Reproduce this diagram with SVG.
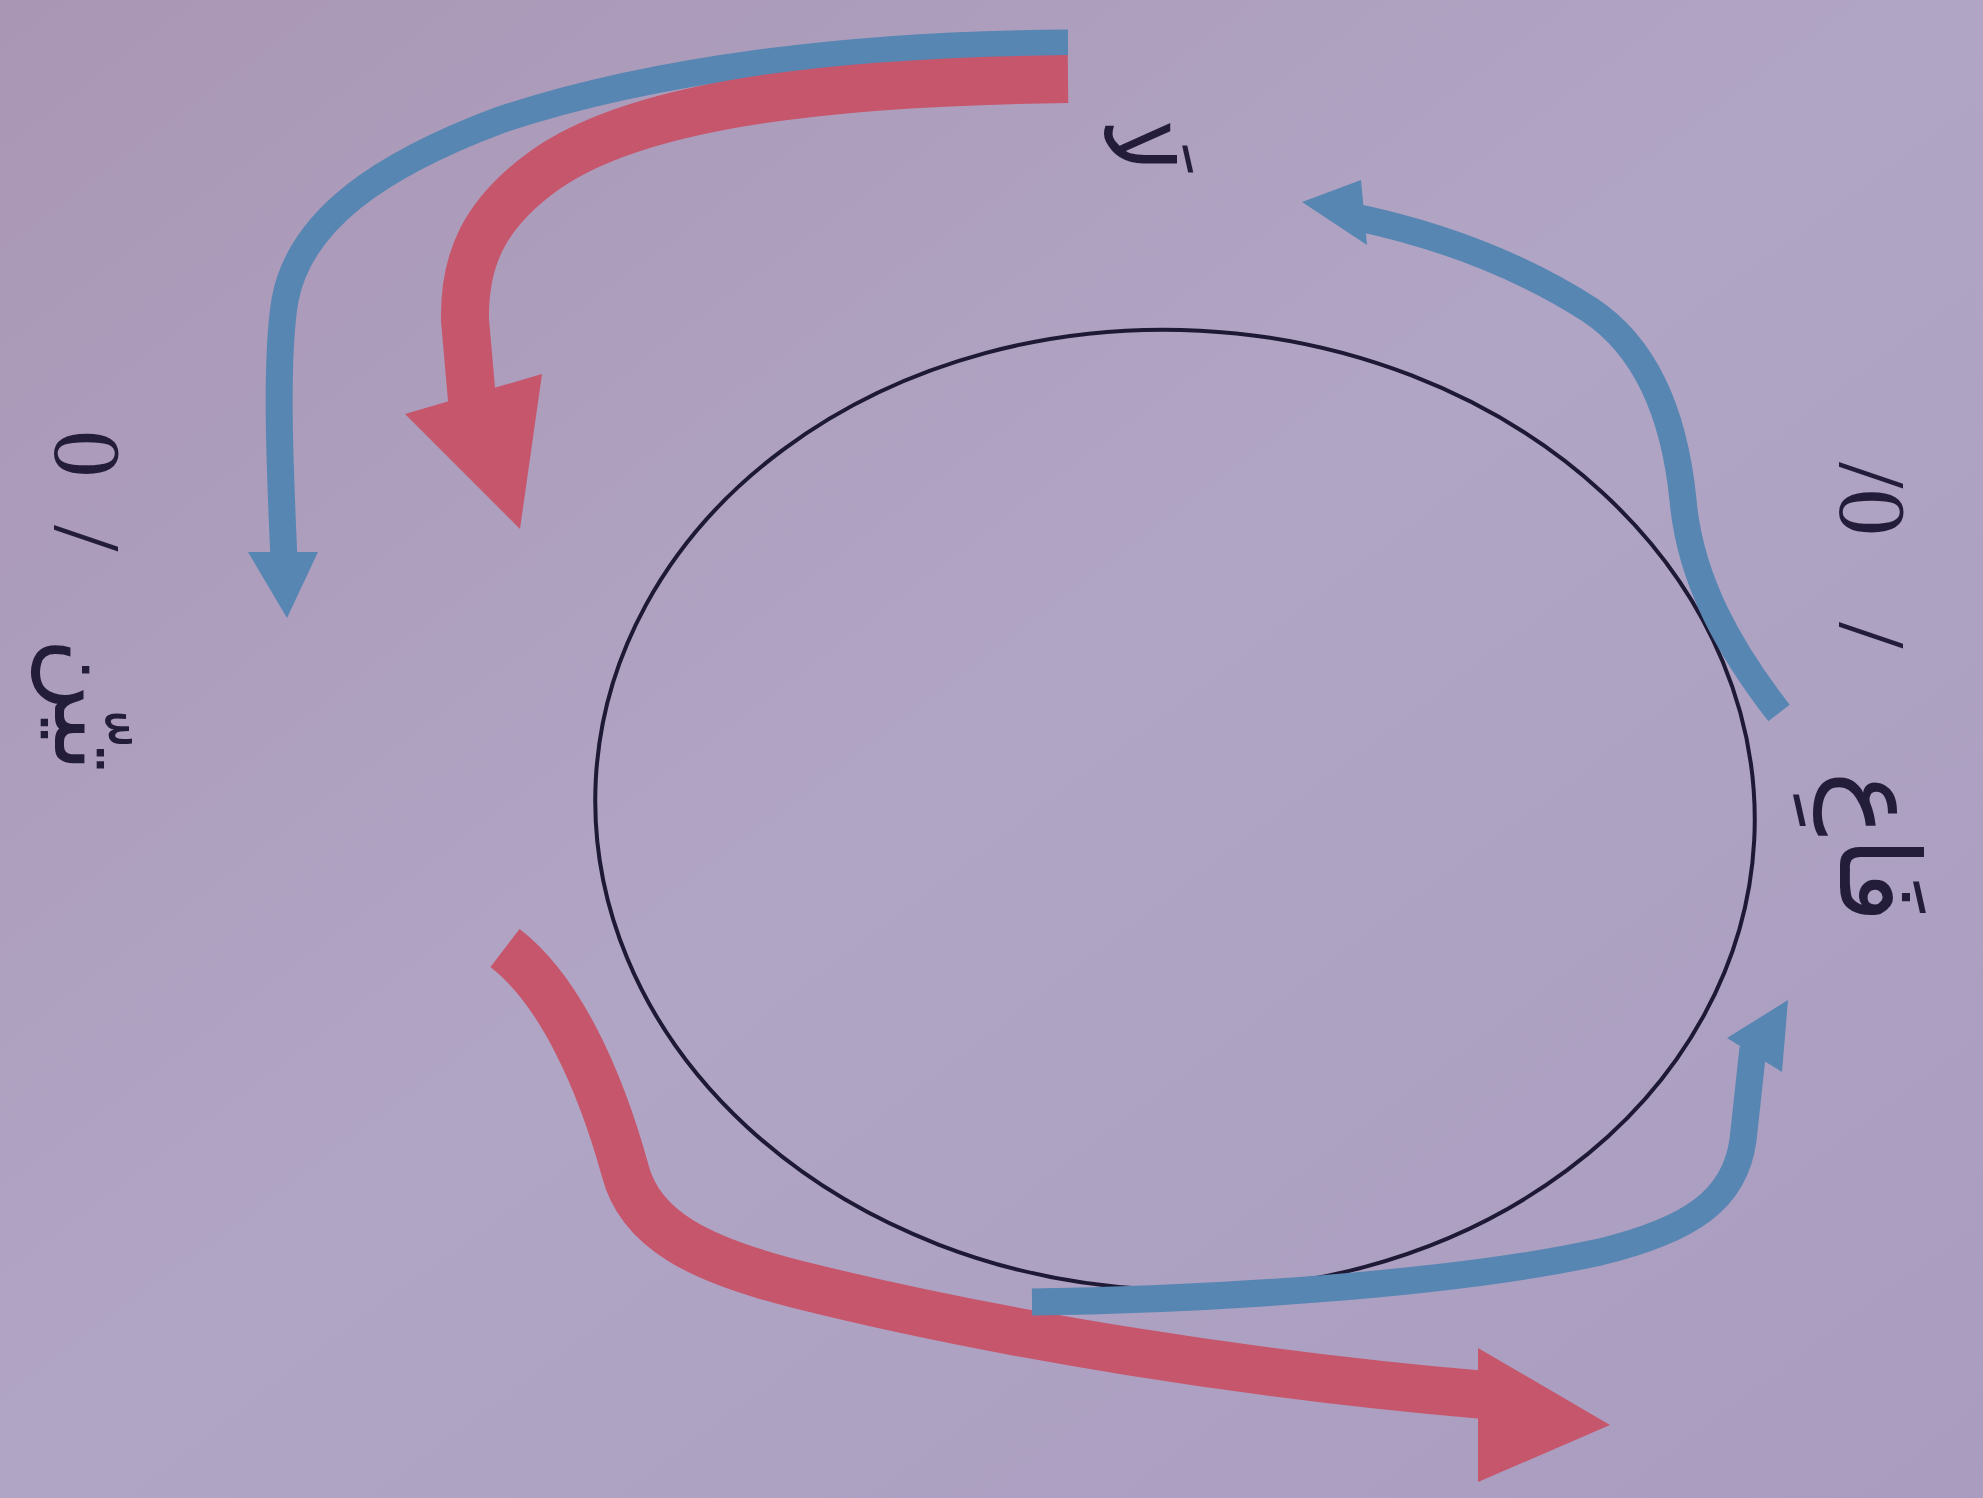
<svg xmlns="http://www.w3.org/2000/svg" width="1983" height="1498" viewBox="0 0 1983 1498">
<defs>
<linearGradient id="bg" x1="0" y1="0" x2="1" y2="1">
<stop offset="0" stop-color="#a996b4"/>
<stop offset="0.5" stop-color="#b1a5c5"/>
<stop offset="1" stop-color="#a99cbf"/>
</linearGradient>
<style>
.red{fill:none;stroke:#c6566b;stroke-width:48;stroke-linecap:butt;stroke-linejoin:round}
.blue{fill:none;stroke:#5786b2;stroke-width:27;stroke-linecap:butt;stroke-linejoin:round}
.redhead{fill:#c6566b}
.bluehead{fill:#5786b2}
.ring{fill:none;stroke:#1e1935;stroke-width:4}
.lbl{font-family:"Liberation Serif","DejaVu Sans",serif;fill:#241d3a}
</style>
</defs>
<rect width="1983" height="1498" fill="url(#bg)"/>
<g id="cycle">
<ellipse class="ring" cx="1175" cy="810" rx="580" ry="480" transform="rotate(3 1175 810)"/>
</g>
<g id="connectors">
<path class="blue" stroke-width="28" d="M1068,43 C850,44 650,70 500,120 C380,165 300,220 285,300 C275,360 280,470 284,560"/>
<polygon class="bluehead" points="248,552 318,552 287,618"/>
<path class="red" stroke-width="46" d="M1068,79 C800,82 630,110 545,170 C482,215 464,262 465,320 L472,400"/>
<polygon class="redhead" points="405,414 542,374 520,529"/>
<path class="red" d="M505,948 C560,990 600,1080 625,1170 C640,1230 700,1260 800,1285 C1000,1335 1250,1375 1485,1395"/>
<polygon class="redhead" points="1478,1348 1478,1482 1610,1425"/>
<path class="blue" d="M1032,1302 C1200,1300 1450,1285 1600,1252 C1690,1230 1735,1200 1743,1140 L1753,1048"/>
<polygon class="bluehead" points="1727,1038 1782,1072 1788,1000"/>
<path class="blue" stroke-width="24" stroke-linecap="round" d="M1779,713 C1730,650 1690,580 1683,500 C1675,420 1650,350 1590,310 C1520,265 1440,235 1355,217"/>
<polygon class="bluehead" points="1361,180 1367,245 1302,202"/>
</g>
<g id="label-left" transform="translate(55,430) rotate(90)">
<text class="lbl" x="0" y="0" font-size="95">0</text>
<text class="lbl" x="95" y="0" font-size="95">/</text>
<text class="lbl" x="275" y="0" font-size="100" text-anchor="middle">تيّن</text>
</g>
<g id="label-right" transform="translate(1840,462) rotate(90)">
<text class="lbl" x="0" y="0" font-size="95">/0</text>
<text class="lbl" x="160" y="0" font-size="95">/</text>
<text class="lbl" x="385" y="0" font-size="110" text-anchor="middle">فَاعِ</text>
</g>
<g id="label-top" transform="translate(1105,146) rotate(90)">
<text class="lbl" x="0" y="0" font-size="95" text-anchor="middle">لَا</text>
</g>
</svg>
